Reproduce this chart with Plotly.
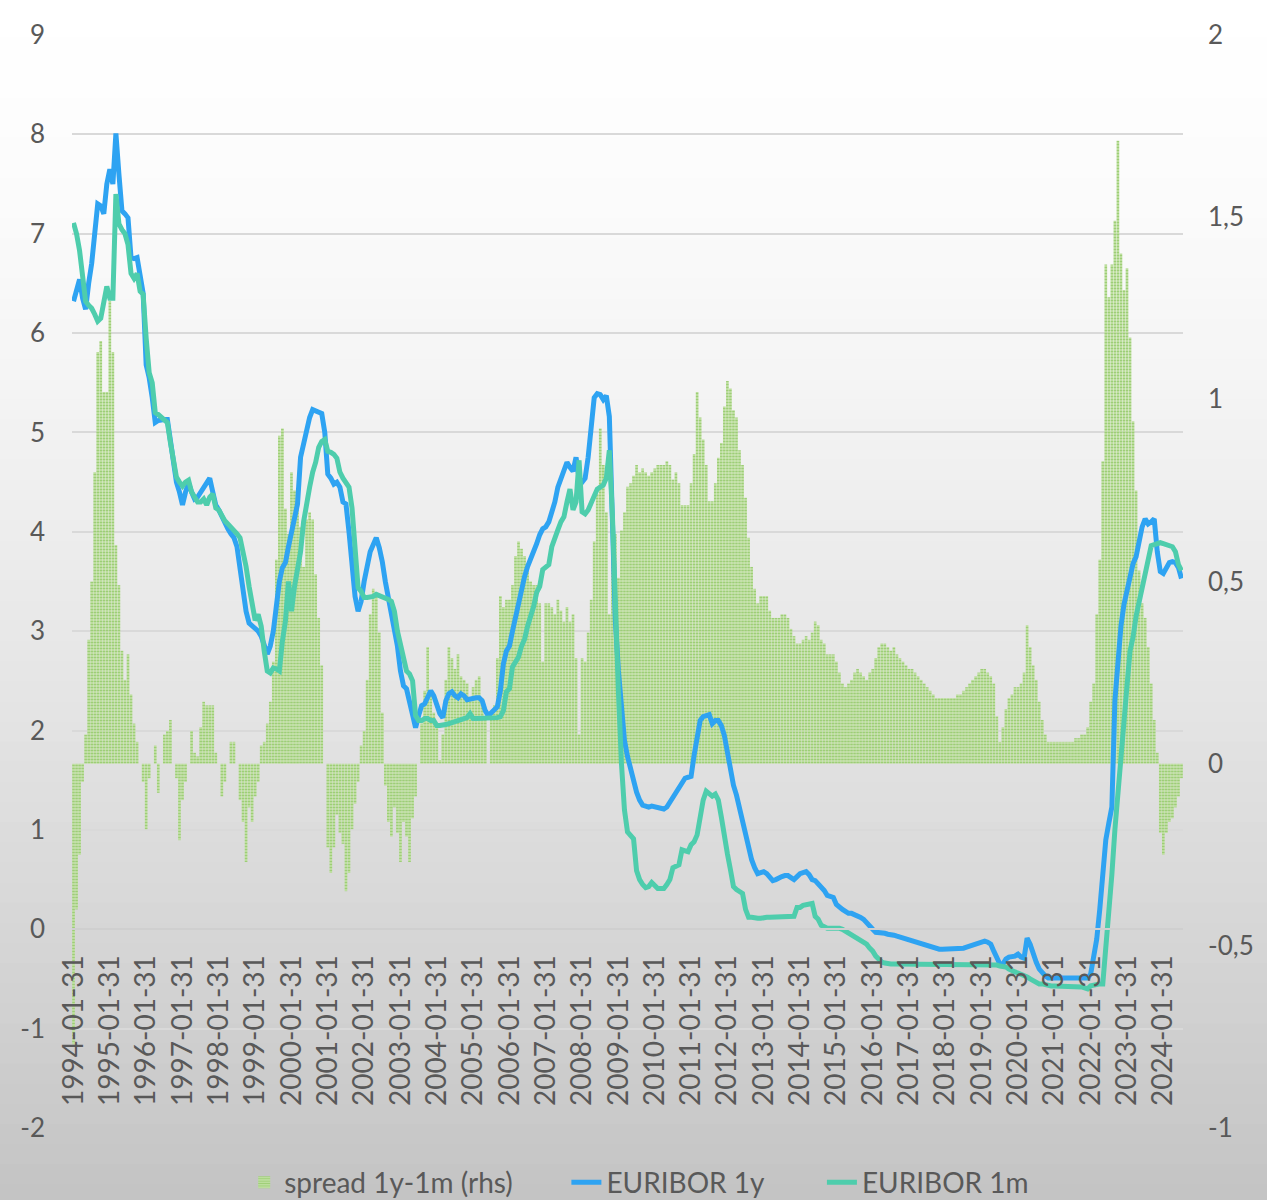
import pandas as pd
import plotly.graph_objects as go

# month-end values, 1994-01 .. 2024-07
eur_1y = [
    6.32, 6.45, 6.54, 6.35, 6.24, 6.5, 6.7, 7.0, 7.3, 7.28, 7.2, 7.5,  # 1994
    7.65, 7.5, 8.01, 7.6, 7.23, 7.2, 7.16, 6.76, 6.75, 6.76, 6.55, 6.4,  # 1995
    5.68, 5.55, 5.35, 5.1, 5.12, 5.13, 5.13, 5.13, 4.9, 4.65, 4.5, 4.4,  # 1996
    4.27, 4.4, 4.49, 4.4, 4.33, 4.35, 4.4, 4.46, 4.5, 4.54, 4.4, 4.27,  # 1997
    4.22, 4.15, 4.08, 4.03, 3.98, 3.94, 3.85, 3.6, 3.4, 3.2, 3.08, 3.05,  # 1998
    3.03, 3.0, 2.95, 2.85, 2.77, 2.85, 3.0, 3.25, 3.5, 3.64, 3.69, 3.85,  # 1999
    3.98, 4.1, 4.28, 4.75, 4.9, 5.02, 5.15, 5.23, 5.22, 5.21, 5.19, 5.0,  # 2000
    4.58, 4.54, 4.48, 4.5, 4.45, 4.3, 4.28, 4.0, 3.7, 3.35, 3.2, 3.3,  # 2001
    3.5, 3.65, 3.8, 3.87, 3.94, 3.84, 3.7, 3.5, 3.35, 3.17, 3.0, 2.85,  # 2002
    2.6, 2.45, 2.42, 2.3, 2.15, 2.03, 2.15, 2.25, 2.27, 2.35, 2.4, 2.35,  # 2003
    2.25, 2.17, 2.13, 2.3, 2.37, 2.39, 2.35, 2.33, 2.37, 2.35, 2.31, 2.32,  # 2004
    2.33, 2.33, 2.33, 2.3, 2.2, 2.15, 2.18, 2.21, 2.24, 2.4, 2.67, 2.8,  # 2005
    2.85, 3.0, 3.14, 3.3, 3.46, 3.55, 3.65, 3.72, 3.8, 3.88, 3.97, 4.03,  # 2006
    4.05, 4.1, 4.2, 4.3, 4.45, 4.54, 4.62, 4.7, 4.65, 4.61, 4.75, 4.54,  # 2007
    4.5, 4.54, 4.75, 5.0, 5.35, 5.39, 5.38, 5.33, 5.37, 5.16, 4.1, 3.1,  # 2008
    2.6, 2.21, 1.9, 1.74, 1.62, 1.48, 1.38, 1.3, 1.25, 1.24, 1.23, 1.24,  # 2009
    1.23, 1.22, 1.21, 1.21, 1.23, 1.28, 1.33, 1.39, 1.43, 1.47, 1.52, 1.53,  # 2010
    1.54, 1.75, 1.96, 2.1, 2.14, 2.15, 2.16, 2.07, 2.1, 2.1, 2.05, 1.95,  # 2011
    1.77, 1.6, 1.45, 1.35, 1.22, 1.05, 0.91, 0.8, 0.7, 0.62, 0.56, 0.57,  # 2012
    0.58, 0.56, 0.52, 0.49, 0.5, 0.52, 0.53, 0.54, 0.54, 0.52, 0.5, 0.53,  # 2013
    0.56, 0.57, 0.58, 0.55, 0.5, 0.49, 0.46, 0.43, 0.39, 0.34, 0.33, 0.32,  # 2014
    0.25, 0.22, 0.2, 0.18, 0.16, 0.16, 0.15, 0.14, 0.12, 0.1, 0.06, 0.03,  # 2015
    0.0, -0.03, -0.03, -0.04, -0.04, -0.05, -0.05, -0.06, -0.07, -0.08, -0.09, -0.1,  # 2016
    -0.11, -0.12, -0.13, -0.14, -0.15, -0.15, -0.16, -0.17, -0.18, -0.19, -0.2, -0.2,  # 2017
    -0.2, -0.2, -0.2, -0.2, -0.2, -0.2, -0.19, -0.18, -0.17, -0.16, -0.14, -0.13,  # 2018
    -0.12, -0.12, -0.13, -0.15, -0.22, -0.3, -0.35, -0.35, -0.3, -0.28, -0.28, -0.27,  # 2019
    -0.25, -0.28, -0.29, -0.09, -0.15, -0.25, -0.33, -0.4, -0.44, -0.47, -0.49, -0.49,  # 2020
    -0.49, -0.49, -0.49, -0.49, -0.5, -0.49, -0.5, -0.5, -0.5, -0.5, -0.5, -0.49,  # 2021
    -0.45, -0.3, -0.1, 0.2, 0.6, 0.9, 1.07, 1.23, 2.3, 2.75, 3.05, 3.27,  # 2022
    3.4, 3.55, 3.68, 3.75, 3.9, 4.05, 4.13, 4.08, 4.1, 4.13, 3.8, 3.6,  # 2023
    3.58, 3.65, 3.69, 3.7, 3.69, 3.64, 3.53,  # 2024
]

eur_1m = [
    7.11, 7.0, 6.83, 6.6, 6.32, 6.28, 6.25, 6.19, 6.12, 6.15, 6.3, 6.47,  # 1994
    6.35, 6.35, 7.4, 7.1, 7.04, 7.0, 6.89, 6.6, 6.55, 6.6, 6.42, 6.39,  # 1995
    5.95, 5.6, 5.5, 5.2, 5.18, 5.15, 5.12, 5.1, 4.9, 4.68, 4.55, 4.5,  # 1996
    4.46, 4.5, 4.52, 4.4, 4.35, 4.3, 4.3, 4.33, 4.27, 4.35, 4.38, 4.24,  # 1997
    4.22, 4.15, 4.11, 4.08, 4.05, 4.02, 3.98, 3.94, 3.8, 3.65, 3.45, 3.25,  # 1998
    3.11, 3.17, 3.05, 2.8, 2.6, 2.58, 2.63, 2.62, 2.6, 2.9, 3.1, 3.5,  # 1999
    3.2, 3.45, 3.64, 3.8, 4.1, 4.3, 4.45, 4.6, 4.7, 4.85, 4.91, 4.93,  # 2000
    4.81, 4.8, 4.78, 4.74, 4.6, 4.54, 4.49, 4.45, 4.24, 3.78, 3.44, 3.4,  # 2001
    3.34, 3.34, 3.34, 3.35, 3.37, 3.36, 3.35, 3.34, 3.32, 3.3, 3.2, 3.0,  # 2002
    2.85, 2.73, 2.6, 2.57, 2.5, 2.15, 2.1, 2.1, 2.12, 2.12, 2.1, 2.1,  # 2003
    2.05, 2.05, 2.05, 2.06, 2.07, 2.08, 2.08, 2.09, 2.1, 2.12, 2.13, 2.17,  # 2004
    2.12, 2.12, 2.12, 2.12, 2.12, 2.12, 2.12, 2.12, 2.13, 2.14, 2.2, 2.39,  # 2005
    2.42, 2.64, 2.68, 2.74, 2.85, 2.92, 3.05, 3.14, 3.25, 3.39, 3.45, 3.62,  # 2006
    3.65, 3.67, 3.85, 3.95, 4.02, 4.1, 4.15, 4.3, 4.43, 4.22, 4.3, 4.72,  # 2007
    4.2, 4.18, 4.22, 4.29, 4.35, 4.43, 4.45, 4.47, 4.54, 4.82, 4.18, 3.2,  # 2008
    2.39, 1.67, 1.2, 0.98, 0.95, 0.91, 0.59, 0.5, 0.45, 0.42, 0.43, 0.47,  # 2009
    0.44, 0.41, 0.41, 0.41, 0.45, 0.5, 0.62, 0.63, 0.65, 0.8, 0.79, 0.78,  # 2010
    0.85, 0.88, 0.95, 1.17, 1.3, 1.39, 1.36, 1.34, 1.36, 1.3, 1.13, 0.9,  # 2011
    0.76, 0.6, 0.43, 0.4, 0.38, 0.36, 0.2, 0.12, 0.12, 0.11, 0.11, 0.11,  # 2012
    0.12, 0.12, 0.12, 0.12, 0.12, 0.12, 0.12, 0.13, 0.13, 0.13, 0.13, 0.22,  # 2013
    0.22, 0.24, 0.25, 0.26, 0.26, 0.13, 0.1, 0.04, 0.02, 0.01, 0.01, 0.01,  # 2014
    0.02, 0.01, 0.0, -0.02, -0.04, -0.06, -0.08, -0.09, -0.11, -0.13, -0.15, -0.19,  # 2015
    -0.22, -0.27, -0.31, -0.33, -0.34, -0.35, -0.35, -0.35, -0.35, -0.35, -0.35, -0.35,  # 2016
    -0.35, -0.35, -0.35, -0.35, -0.35, -0.35, -0.35, -0.35, -0.35, -0.35, -0.35, -0.35,  # 2017
    -0.35, -0.35, -0.35, -0.35, -0.35, -0.35, -0.35, -0.35, -0.35, -0.35, -0.35, -0.35,  # 2018
    -0.35, -0.35, -0.35, -0.35, -0.35, -0.36, -0.37, -0.37, -0.38, -0.4, -0.42, -0.43,  # 2019
    -0.44, -0.45, -0.46, -0.48, -0.5, -0.52, -0.53, -0.55, -0.55, -0.56, -0.56, -0.57,  # 2020
    -0.57, -0.57, -0.57, -0.57, -0.57, -0.57, -0.57, -0.57, -0.58, -0.58, -0.59, -0.6,  # 2021
    -0.57, -0.56, -0.56, -0.55, -0.55, -0.2, 0.1, 0.55, 1.0, 1.4, 1.78, 2.2,  # 2022
    2.45, 2.8, 2.94, 3.15, 3.3, 3.45, 3.61, 3.75, 3.86, 3.87, 3.88, 3.89,  # 2023
    3.88, 3.87, 3.86, 3.85, 3.8, 3.67, 3.61,  # 2024
]

spread = [
    -0.77, -0.4, -0.25, -0.05, 0.08, 0.34, 0.5, 0.8, 1.13, 1.16, 1.02, 1.02,  # 1994
    1.27, 1.13, 0.6, 0.49, 0.31, 0.23, 0.3, 0.19, 0.11, 0.06, 0.0, -0.05,  # 1995
    -0.18, -0.04, 0.0, 0.05, -0.08, 0.0, 0.08, 0.09, 0.12, 0.0, -0.04, -0.21,  # 1996
    -0.1, -0.05, 0.0, 0.09, 0.03, 0.02, 0.1, 0.17, 0.16, 0.16, 0.16, 0.03,  # 1997
    0.0, -0.09, -0.05, 0.0, 0.06, 0.06, 0.0, -0.1, -0.16, -0.27, -0.12, -0.16,  # 1998
    -0.09, -0.05, 0.05, 0.06, 0.11, 0.17, 0.28, 0.56, 0.9, 0.92, 0.7, 0.63,  # 1999
    0.8, 0.75, 0.74, 0.65, 0.54, 0.67, 0.69, 0.67, 0.52, 0.4, 0.27, 0.0,  # 2000
    -0.23, -0.3, -0.23, -0.14, -0.19, -0.22, -0.35, -0.3, -0.18, -0.11, -0.05, 0.05,  # 2001
    0.09, 0.23, 0.41, 0.48, 0.47, 0.36, 0.14, -0.06, -0.16, -0.2, -0.12, -0.19,  # 2002
    -0.27, -0.16, -0.2, -0.27, -0.15, -0.09, 0.0, 0.11, 0.2, 0.32, 0.2, 0.14,  # 2003
    0.1, 0.01, 0.08, 0.23, 0.32, 0.29, 0.26, 0.3, 0.24, 0.23, 0.22, 0.18,  # 2004
    0.21, 0.23, 0.24, 0.18, 0.12, 0.0, 0.14, 0.16, 0.29, 0.46, 0.43, 0.45,  # 2005
    0.45, 0.49, 0.57, 0.61, 0.59, 0.57, 0.53, 0.5, 0.49, 0.49, 0.44, 0.28,  # 2006
    0.44, 0.44, 0.43, 0.41, 0.45, 0.42, 0.39, 0.43, 0.39, 0.41, 0.29, 0.08,  # 2007
    0.29, 0.28, 0.36, 0.45, 0.61, 0.74, 0.92, 0.82, 0.69, 0.41, 0.71, 0.63,  # 2008
    0.51, 0.64, 0.69, 0.76, 0.77, 0.79, 0.82, 0.8, 0.81, 0.8, 0.79, 0.8,  # 2009
    0.81, 0.82, 0.82, 0.82, 0.83, 0.82, 0.78, 0.8, 0.77, 0.71, 0.71, 0.71,  # 2010
    0.77, 0.85, 1.02, 0.95, 0.89, 0.82, 0.72, 0.72, 0.77, 0.84, 0.88, 0.98,  # 2011
    1.05, 1.03, 0.97, 0.95, 0.86, 0.82, 0.73, 0.62, 0.54, 0.48, 0.44, 0.46,  # 2012
    0.46, 0.46, 0.42, 0.4, 0.4, 0.4, 0.41, 0.41, 0.4, 0.37, 0.35, 0.33,  # 2013
    0.33, 0.34, 0.35, 0.34, 0.36, 0.39, 0.38, 0.34, 0.33, 0.3, 0.3, 0.3,  # 2014
    0.28, 0.25, 0.22, 0.21, 0.22, 0.23, 0.25, 0.26, 0.25, 0.24, 0.23, 0.25,  # 2015
    0.26, 0.29, 0.32, 0.33, 0.33, 0.32, 0.31, 0.32, 0.3, 0.29, 0.28, 0.27,  # 2016
    0.26, 0.26, 0.25, 0.24, 0.23, 0.22, 0.21, 0.2, 0.19, 0.18, 0.18, 0.18,  # 2017
    0.18, 0.18, 0.18, 0.18, 0.19, 0.19, 0.2, 0.21, 0.22, 0.23, 0.24, 0.25,  # 2018
    0.26, 0.26, 0.25, 0.24, 0.22, 0.13, 0.06, 0.1, 0.15, 0.18, 0.19, 0.21,  # 2019
    0.21, 0.22, 0.25, 0.38, 0.32, 0.27, 0.23, 0.17, 0.12, 0.08, 0.06, 0.06,  # 2020
    0.06, 0.06, 0.06, 0.06, 0.06, 0.06, 0.06, 0.07, 0.07, 0.08, 0.08, 0.1,  # 2021
    0.17, 0.22, 0.41, 0.56, 0.83, 1.37, 1.28, 1.37, 1.49, 1.71, 1.4, 1.3,  # 2022
    1.36, 1.17, 0.94, 0.75, 0.53, 0.44, 0.4, 0.32, 0.22, 0.12, 0.03, -0.19,  # 2023
    -0.25, -0.19, -0.16, -0.15, -0.12, -0.09, -0.04,  # 2024
]

years = list(range(1994, 2025))
left_ticks = list(range(-2, 10))
right_ticks = [-1, -0.5, 0, 0.5, 1, 1.5, 2]
right_text = ['-1', '-0,5', '0', '0,5', '1', '1,5', '2']

dates = pd.date_range('1994-01-31', periods=len(eur_1y), freq='ME').strftime('%Y-%m-%d').tolist()
jan_ticks = [f'{y}-01-31' for y in years]

txt = '#595959'
fnt = 'Lato, sans-serif'

fig = go.Figure()
fig.add_trace(go.Bar(
    x=dates, y=spread, name='spread 1y-1m (rhs)', yaxis='y', legend='legend', showlegend=True,
    marker=dict(color='#c6e4a9', line_width=0,
                pattern=dict(shape='-', fgcolor='#74b843', size=3, solidity=0.5)),
))
fig.add_trace(go.Scatter(x=dates, y=eur_1y, name='EURIBOR 1y', yaxis='y2', mode='lines',
                         legend='legend2', line=dict(color='#2ea3f2', width=5)))
fig.add_trace(go.Scatter(x=dates, y=eur_1m, name='EURIBOR 1m', yaxis='y2', mode='lines',
                         legend='legend3', line=dict(color='#4ecdac', width=5)))

# soft vertical gradient behind the chart, like the original
n = 60
top, bot = 1.035, -0.07
step = (top - bot) / n
for i in range(n):
    t = (i + 0.5) / n
    g = int(round(255 - 60 * t ** 1.5))
    fig.add_shape(type='rect', xref='paper', yref='paper', x0=-0.07, x1=1.08,
                  y0=top - step * (i + 1.6), y1=top - step * i,
                  fillcolor=f'rgb({g},{g},{g})', line_width=0, layer='below')

leg = dict(orientation='h', xanchor='left', y=-0.05, yanchor='middle',
           font=dict(size=28, color=txt), bgcolor='rgba(0,0,0,0)')

fig.update_layout(
    width=1267, height=1200,
    margin=dict(l=72, r=84, t=35, b=72, autoexpand=False),
    paper_bgcolor='#c4c4c4', plot_bgcolor='rgba(0,0,0,0)',
    font=dict(family=fnt, size=26, color=txt),
    bargap=0.12,
    hovermode=False,
    showlegend=True,
    xaxis=dict(type='category', tickmode='array', tickvals=jan_ticks, ticktext=jan_ticks,
               tickangle=-90, anchor='free', position=2 / 11, ticklabelstandoff=14,
               range=[-0.5, len(dates) - 0.5], showgrid=False, showline=True,
               linecolor='#cfcfcf', linewidth=1.5, ticks='', tickfont=dict(size=28)),
    yaxis=dict(side='right', range=[-1, 2], tickvals=right_ticks, ticktext=right_text,
               showgrid=False, zeroline=False, ticklabelstandoff=24),
    yaxis2=dict(side='left', overlaying='y', range=[-2, 9], tickvals=left_ticks,
                ticktext=[str(v) for v in left_ticks], showgrid=True, gridcolor='#d9d9d9',
                gridwidth=1.5, zeroline=False, ticklabelstandoff=26),
    legend=dict(leg, x=0.155),
    legend2=dict(leg, x=0.445),
    legend3=dict(leg, x=0.675),
)

fig.write_html("out.html", config={'displayModeBar': False},
               post_script="document.body.style.margin='0px';")
